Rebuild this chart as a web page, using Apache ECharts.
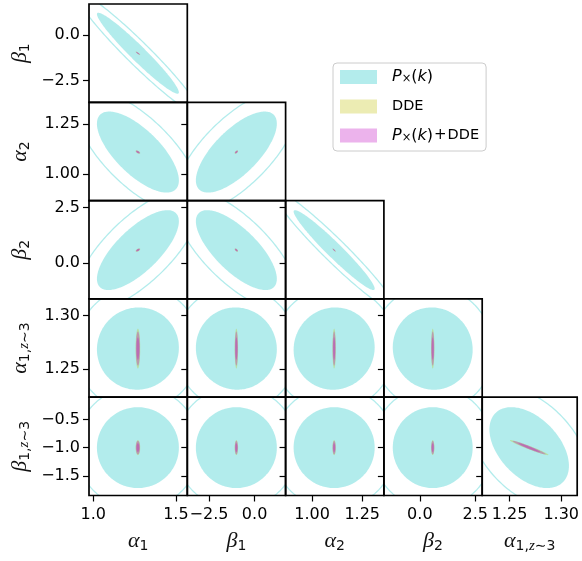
<!DOCTYPE html>
<html><head><meta charset="utf-8">
<script src="https://cdn.jsdelivr.net/npm/echarts@6/dist/echarts.min.js"></script>
<style>html,body{margin:0;padding:0;background:#fff}#c{width:582px;height:561px}</style>
</head><body><div id="c"></div>
<script>
// ---- data ----
// parameter order: alpha1, beta1, alpha2, beta2, alpha1(z~3), beta1(z~3)
const nameRich = ['{g|α}{s|1}','{g|β}{s|1}','{g|α}{s|2}','{g|β}{s|2}','{g|α}{s|1,}{si|z}{s|∼3}','{g|β}{s|1,}{si|z}{s|∼3}'];
const fiducial = [1.27, -1.0, 1.11, 0.58, 1.269, -1.0];
const axisMin = [0.974, -3.69, 0.868, -1.62, 1.2235, -1.85];
const axisMax = [1.569, 1.70, 1.358, 2.81, 1.3155, -0.105];
const tickValues = [[1.0,1.5],[-2.5,0.0],[1.0,1.25],[0.0,2.5],[1.25,1.30],[-1.5,-1.0,-0.5]];
const tickLabels = [['1.0','1.5'],['−2.5','0.0'],['1.00','1.25'],['0.0','2.5'],['1.25','1.30'],['−1.5','−1.0','−0.5']];

// marginal 1-sigma errors per experiment
const sigmaPk   = [0.248, 2.22, 0.202, 1.80, 0.0385, 0.718];
const sigmaDDE  = [0.0092, 0.062, 0.0056, 0.050, 0.0123, 0.088];
const sigmaComb = [0.0082, 0.055, 0.0050, 0.045, 0.0105, 0.079];

// panels (x parameter, y parameter) and correlation coefficients
const panelPairs = [[0,1],[0,2],[1,2],[0,3],[1,3],[2,3],[0,4],[1,4],[2,4],[3,4],[0,5],[1,5],[2,5],[3,5],[4,5]];
const corrPk   = [-0.965,-0.70,0.70,0.72,-0.72,-0.965,0.02,-0.02,0.03,-0.03,0.0,0.0,0.0,0.0,-0.45];
const corrDDE  = [-0.9,-0.6,0.6,0.6,-0.6,-0.9,0,0,0,0,0,0,0,0,-0.97];
const corrComb = [-0.9,-0.6,0.6,0.6,-0.6,-0.9,0,0,0,0,0,0,0,0,-0.97];

const deltaChi2 = [1.0, 2.30];
const legendNames = ['P×(k)', 'DDE', 'P×(k)+DDE'];
const legendRich = ['{i|P}{s|×}{n|(}{i|k}{n|)}', '{t|DDE}', '{i|P}{s|×}{n|(}{i|k}{n|)}{p|+}{t|DDE}'];

// ---- styling ----
const SANS = "'DejaVu Sans','Liberation Sans',sans-serif";
const SERIF = "'Liberation Serif','DejaVu Serif',serif";
// mode: how the inner (1σ) and outer (2σ) contours are drawn
const experiments = [
  {name: legendNames[0], color: 'rgba(0,191,191,0.3)', solid: '#b3ecec', sigma: sigmaPk, corr: corrPk, outer: 'line', inner: true},
  {name: legendNames[1], color: 'rgba(191,191,0,0.3)', solid: '#ececb3', sigma: sigmaDDE, corr: corrDDE, outer: 'fill', inner: false},
  {name: legendNames[2], color: 'rgba(191,0,191,0.3)', solid: '#ecb3ec', sigma: sigmaComb, corr: corrComb, outer: 'fill', inner: true}
];
const L0 = 89, T0 = 4, S = 98.3;
const nameStyle = {
  color: '#111',
  rich: {
    g: {fontFamily: SERIF, fontStyle: 'italic', fontSize: 22, lineHeight: 24, color: '#111'},
    s: {fontFamily: SANS, fontSize: 14, lineHeight: 12, verticalAlign: 'bottom', color: '#111'},
    si: {fontFamily: SERIF, fontStyle: 'italic', fontSize: 15, lineHeight: 12, verticalAlign: 'bottom', color: '#111'}
  }
};
function fmt(i) {
  return function (v) {
    const k = tickValues[i].findIndex(t => Math.abs(t - v) < 1e-9);
    return k >= 0 ? tickLabels[i][k] : '';
  };
}
const grids = [], xAxes = [], yAxes = [], series = [];
panelPairs.forEach(([i, j], k) => {
  const col = i, row = j - 1;
  const bottom = row === 4, left = col === 0;
  grids.push({left: L0 + col * S, top: T0 + row * S, width: S, height: S,
    show: true, borderColor: '#000', borderWidth: 1.7, backgroundColor: 'transparent', z: 10});
  xAxes.push({type: 'value', gridIndex: k, min: axisMin[i], max: axisMax[i], z: 10, position: 'bottom',
    splitLine: {show: false}, axisLine: {show: false, onZero: false},
    axisTick: {show: bottom, length: 6, lineStyle: {color: '#000', width: 1.2}, customValues: tickValues[i]},
    axisLabel: {show: bottom, customValues: tickValues[i], formatter: fmt(i), margin: 11,
      fontSize: 16, fontFamily: SANS, color: '#000'},
    name: bottom ? nameRich[i] : '', nameLocation: 'middle', nameGap: 34, nameTextStyle: nameStyle});
  yAxes.push({type: 'value', gridIndex: k, min: axisMin[j], max: axisMax[j], z: 10, position: 'left',
    splitLine: {show: false}, axisLine: {show: false, onZero: false},
    axisTick: {show: true, length: 6, lineStyle: {color: '#000', width: 1.2}, customValues: tickValues[j]},
    axisLabel: {show: left, customValues: tickValues[j], formatter: fmt(j), margin: 9,
      fontSize: 16, fontFamily: SANS, color: '#000'},
    name: left ? nameRich[j] : '', nameLocation: 'middle', nameRotate: 90, nameGap: 57, nameTextStyle: nameStyle});
  experiments.forEach(exp => {
    series.push({
      type: 'custom', name: exp.name, xAxisIndex: k, yAxisIndex: k,
      itemStyle: {color: exp.color}, silent: true,
      data: [[fiducial[i], fiducial[j]]], encode: {x: 0, y: 1},
      renderItem: function (params, api) {
        const cs = params.coordSys;
        const cx = api.value(0), cy = api.value(1);
        const sx = exp.sigma[i], sy = exp.sigma[j], r = exp.corr[k];
        const q = Math.sqrt(1 - r * r);
        const children = [];
        const contour = function (d2) {
          const f = Math.sqrt(d2), pts = [], N = 200;
          for (let n = 0; n < N; n++) {
            const t = 2 * Math.PI * n / N;
            pts.push(api.coord([cx + f * sx * Math.cos(t), cy + f * sy * (r * Math.cos(t) + q * Math.sin(t))]));
          }
          return pts;
        };
        children.push({type: 'polygon', shape: {points: contour(deltaChi2[1])},
          style: exp.outer === 'line' ? {fill: 'none', stroke: exp.color, lineWidth: 1.3} : {fill: exp.color, stroke: 'none'}});
        if (exp.inner) {
          children.push({type: 'polygon', shape: {points: contour(deltaChi2[0])}, style: {fill: exp.color, stroke: 'none'}});
        }
        return {type: 'group', children: children,
          clipPath: {type: 'rect', shape: {x: cs.x, y: cs.y, width: cs.width, height: cs.height}}};
      }
    });
  });
});

const chart = echarts.init(document.getElementById('c'), null, {renderer: 'canvas'});
chart.setOption({
  animation: false,
  backgroundColor: '#fff',
  textStyle: {fontFamily: SANS},
  grid: grids, xAxis: xAxes, yAxis: yAxes, series: series,
  legend: {
    orient: 'vertical', left: 333, top: 63, itemWidth: 37, itemHeight: 14, itemGap: 13.5,
    padding: [6, 7, 7, 7], backgroundColor: 'rgba(255,255,255,0.8)', borderColor: '#cccccc',
    borderWidth: 1, borderRadius: 4, icon: 'rect', selectedMode: false,
    data: legendNames.map((n, k) => ({name: n, itemStyle: {color: experiments[k].solid}})),
    formatter: function (n) { return legendRich[legendNames.indexOf(n)]; },
    textStyle: {
      padding: [0, 0, 0, 10],
      rich: {
        t: {fontFamily: SANS, fontSize: 14.5, lineHeight: 17, color: '#000'},
        n: {fontFamily: SANS, fontSize: 16, lineHeight: 17, color: '#000'},
        p: {fontFamily: SANS, fontSize: 15, lineHeight: 17, padding: [0, 1, 0, 1], color: '#000'},
        i: {fontFamily: SANS, fontStyle: 'italic', fontSize: 16, lineHeight: 17, color: '#000'},
        s: {fontFamily: SANS, fontSize: 11.5, lineHeight: 9, verticalAlign: 'bottom', color: '#000'}
      }
    }
  }
});
</script></body></html>
